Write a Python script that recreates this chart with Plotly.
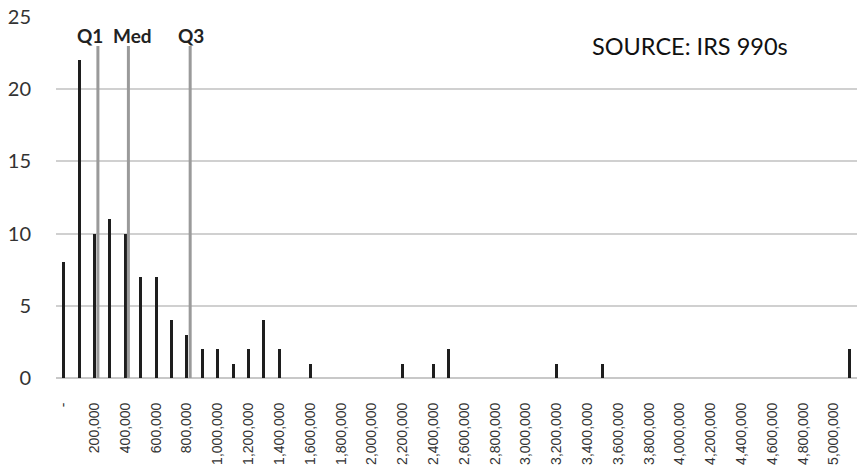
import plotly.graph_objects as go

# Histogram bins (lower bound, USD) and counts
bins = [i * 100000 for i in range(52)]
counts = [8, 22, 10, 11, 10, 7, 7, 4, 3, 2, 2, 1, 2, 4, 2, 0, 1, 0, 0, 0,
          0, 0, 1, 0, 1, 2, 0, 0, 0, 0, 0, 0, 1, 0, 0, 1, 0, 0, 0, 0,
          0, 0, 0, 0, 0, 0, 0, 0, 0, 0, 0, 2]

tick_vals = [i * 200000 for i in range(26)]
tick_text = ["-"] + [f"{v:,}" for v in tick_vals[1:]]

quartile_names = ["Q1", "Med", "Q3"]
quartile_x = [222000, 420000, 821000]
quartile_top = 23
label_x = [170000, 447000, 826000]
label_y = 23.75

fig = go.Figure()
fig.add_trace(go.Bar(x=bins, y=counts, width=19000,
                     marker=dict(color="#1e1e1e", line=dict(width=0)),
                     showlegend=False))
for qx in quartile_x:
    fig.add_trace(go.Scatter(x=[qx, qx], y=[0, quartile_top], mode="lines",
                             line=dict(color="#9a9a9a", width=3),
                             showlegend=False, hoverinfo="skip"))

for name, lx in zip(quartile_names, label_x):
    fig.add_annotation(x=lx, y=label_y, text=f"<b>{name}</b>", showarrow=False,
                       xanchor="center", yanchor="middle",
                       font=dict(family="Lato", size=19, color="#222"))

fig.add_annotation(xref="paper", yref="paper", x=0.7915, y=0.919,
                   xanchor="center", yanchor="middle",
                   text="SOURCE: IRS 990s", showarrow=False,
                   font=dict(family="Lato", size=23.5, color="#111"))

fig.update_layout(
    width=857, height=475,
    margin=dict(l=56, r=0, t=17, b=97),
    paper_bgcolor="white", plot_bgcolor="white",
    bargap=0,
)
fig.update_xaxes(range=[-50000, 5150000], tickvals=tick_vals, ticktext=tick_text,
                 tickangle=-90, tickfont=dict(family="Liberation Sans", size=14, color="#333"),
                 showgrid=False, zeroline=False, showline=False, automargin=False,
                 ticks="outside", ticklen=18, tickcolor="rgba(0,0,0,0)")
fig.update_yaxes(range=[0, 25], dtick=5, showgrid=True, gridcolor="#d0d0d0", gridwidth=1.5,
                 zeroline=True, zerolinecolor="#c8c8c8", zerolinewidth=1.5,
                 tickfont=dict(family="Lato", size=20, color="#333"), automargin=False,
                 ticklabeloverflow="allow",
                 ticks="outside", ticklen=20, tickcolor="rgba(0,0,0,0)")

# remove the browser's default 8px body margin so the figure fills the window
fig.write_html("out.html", config={"displayModeBar": False},
               post_script="document.body.style.margin='0px';")
